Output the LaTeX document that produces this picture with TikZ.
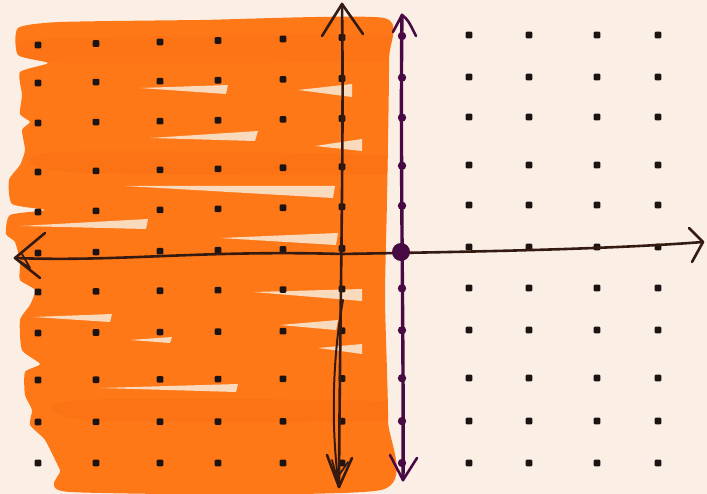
\documentclass[tikz,border=0pt]{standalone}
\usetikzlibrary{calc}
\definecolor{paper}{RGB}{251,239,229}
\definecolor{marker}{RGB}{255,120,24}
\definecolor{markerdark}{RGB}{246,106,14}
\definecolor{pale}{RGB}{250,218,188}
\definecolor{ink}{RGB}{28,20,18}
\definecolor{axisink}{RGB}{52,26,16}
\definecolor{plum}{RGB}{72,10,66}
\tikzset{
  griddot/.style={fill=ink, rounded corners=1pt},
  axisline/.style={draw=axisink, line width=2.6pt, line cap=round, line join=round},
  plumline/.style={draw=plum, line width=3.4pt, line cap=round, line join=round},
  streak/.style={fill=pale},
}
\def\orangeregion{plot[smooth cycle, tension=0.35] coordinates {
 (18,28) (60,22) (200,20) (384,18) (389,60) (387,200) (385,300) (388,420) (381,490)
 (70,492) (60,470) (45,440) (30,425) (32,410) (25,395) (25,372) (40,364) (22,350)
 (20,320) (30,305) (35,290) (20,280) (20,262) (15,242) (6,234) (10,215) (45,210) (12,204)
 (9,180) (20,165) (25,150) (22,130) (30,122) (20,114) (22,95) (20,72) (48,63) (18,55)}}
\begin{document}
\begin{tikzpicture}[x=1pt,y=-1pt]
\useasboundingbox (0,0) rectangle (707,494);
\fill[paper] (0,0) rectangle (707,494);

% orange shading
\fill[marker] \orangeregion;
\begin{scope}
\clip \orangeregion;
\fill[markerdark, opacity=0.35] plot[smooth cycle, tension=0.5] coordinates {(60,152) (400,156) (400,174) (70,172)};
\fill[markerdark, opacity=0.35] plot[smooth cycle, tension=0.5] coordinates {(80,400) (400,402) (400,420) (90,420)};
\fill[markerdark, opacity=0.25] plot[smooth cycle, tension=0.5] coordinates {(30,40) (400,36) (400,60) (30,62)};
\end{scope}

% pale streaks (gaps between marker strokes)
\fill[streak] (140,88) -- (228,85) -- (226,94) -- cycle;
\fill[streak] (298,90) -- (352,84) -- (352,97) -- cycle;
\fill[streak] (150,138) -- (258,131) -- (255,141) -- cycle;
\fill[streak] (315,146) -- (362,139) -- (362,151) -- cycle;
\fill[streak] (125,186) -- (335,186) -- (333,198) -- cycle;
\fill[streak] (20,226) -- (148,219) -- (146,229) -- cycle;
\fill[streak] (220,238) -- (338,233) -- (336,245) -- cycle;
\fill[streak] (253,292) -- (362,289) -- (362,301) -- cycle;
\fill[streak] (33,317) -- (112,314) -- (110,322) -- cycle;
\fill[streak] (130,340) -- (172,337) -- (170,343) -- cycle;
\fill[streak] (318,348) -- (362,344) -- (362,354) -- cycle;
\fill[streak] (100,388) -- (238,384) -- (236,392) -- cycle;
\fill[streak] (280,325) -- (338,320) -- (336,330) -- cycle;

% grid dots
\def\yL{{45,83,123,172,212,253,292,333,380,422,463}}
\def\yR{{35,77,117,165,205,247,288,330,378,421,463}}
\def\colx{{38,96,160,218,283,342,402,469,529,597,658}}
\def\colf{{0,0.15,0.3,0.45,0.6,0.75,0.9,1,1,1,1}}
\foreach \c in {0,...,10}{
  \foreach \r in {0,...,10}{
    \pgfmathsetmacro{\px}{\colx[\c]}
    \pgfmathsetmacro{\py}{\yL[\r]+(\yR[\r]-\yL[\r])*\colf[\c]}
    \ifnum\c=6\relax
      \ifnum\r=5\relax\else
        \fill[plum] (\px,\py) circle (4.2);
      \fi
    \else
      \fill[griddot] (\px-3.3,\py-3.3) rectangle (\px+3.3,\py+3.3);
    \fi
  }
}

% x-axis
\coordinate (xl) at (15,258);
\coordinate (xr) at (703,242);
\draw[axisline] (xl) .. controls (120,262) and (200,250) .. (342,254)
  .. controls (450,252) and (600,250) .. (xr);
\draw[axisline] (45,233) -- (xl) -- (40,278);
\draw[axisline, line width=1.8pt] (22,254) -- (30,268) -- (xl);
\draw[axisline] (689,228) -- (xr) -- (692,262);

% y-axis
\coordinate (yt) at (342,4);
\coordinate (yb) at (339,487);
\draw[axisline] (yt) .. controls (344,150) and (340,300) .. (yb);
\draw[axisline, line width=2pt] (343,300) .. controls (332,360) and (331,430) .. (yb);
\draw[axisline] (322,36) -- (yt) -- (363,34);
\draw[axisline] (327,455) -- (yb) -- (352,458);
\draw[axisline, line width=1.8pt] (332,460) -- (337,478) -- (348,462);

% purple line x = 402
\coordinate (pt) at (402,15);
\coordinate (pb) at (403,480);
\draw[plumline] (pt) .. controls (400,150) and (404,350) .. (pb);
\draw[plumline, line width=2.6pt] (393,32) -- (pt) .. controls (408,20) .. (416,36);
\draw[plumline, line width=2.6pt] (390,455) -- (pb) -- (417,458);
\fill[plum] (401,252) circle (9);
\end{tikzpicture}
\end{document}
